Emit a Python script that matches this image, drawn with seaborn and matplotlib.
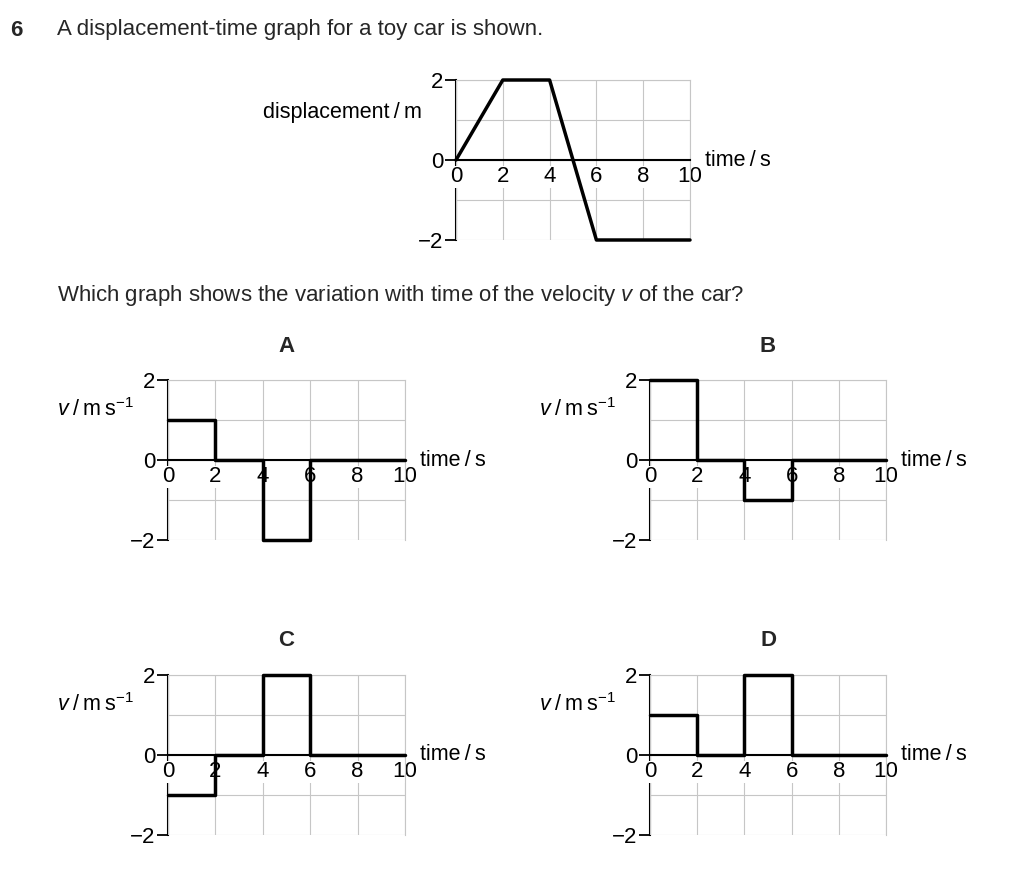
import pandas as pd
import seaborn as sns
import matplotlib.pyplot as plt

sns.set_theme(style="white")
plt.rcParams['font.family'] = ['Liberation Sans', 'DejaVu Sans']
plt.rcParams['mathtext.fontset'] = 'custom'
plt.rcParams['mathtext.rm'] = 'Liberation Sans'
plt.rcParams['mathtext.it'] = 'Liberation Sans:italic'

# displacement-time data
disp_t = [0, 2, 4, 6, 10]
disp_s = [0, 2, 2, -2, -2]

# velocity options (step values, held until the next time)
step_t = [0, 2, 4, 6, 10]
vel_A = [1, 0, -2, 0, 0]
vel_B = [2, 0, -1, 0, 0]
vel_C = [-1, 0, 2, 0, 0]
vel_D = [1, 0, 2, 0, 0]

x_ticks = [0, 2, 4, 6, 8, 10]
x_ticklabels = ['0', '2', '4', '6', '8', '10']
y_ticks = [-2, 0, 2]
y_ticklabels = ['\u22122', '0', '2']

W, H = 1024, 874
fig = plt.figure(figsize=(W / 100, H / 100), dpi=100)
fig.patch.set_facecolor('white')

GRID = '#c6c6c6'
TS = 16
LS = 15.5


def make_ax(x0, x1, ytop, ybot):
    return fig.add_axes([x0 / W, 1 - ybot / H, (x1 - x0) / W, (ybot - ytop) / H])


def style(ax, ylabel, ylab_y):
    ax.set_xlim(0, 10)
    ax.set_ylim(-2, 2)
    ax.set_xticks(x_ticks)
    ax.set_xticklabels(x_ticklabels)
    ax.set_yticks(y_ticks)
    ax.set_yticklabels(y_ticklabels)
    ax.set_yticks([-1, 1], minor=True)
    ax.set_xlabel('')
    ax.set_ylabel('')
    ax.grid(True, which='both', color=GRID, lw=0.8)
    ax.set_axisbelow(True)
    ax.spines['bottom'].set_position(('data', 0))
    for s in ['left', 'bottom']:
        ax.spines[s].set_color('black')
        ax.spines[s].set_linewidth(1.5)
    ax.spines['left'].set_zorder(0.4)
    for s in ['top', 'right']:
        ax.spines[s].set_color(GRID)
        ax.spines[s].set_linewidth(0.8)
    ax.tick_params(axis='x', which='both', length=0, pad=4.5, labelsize=TS, colors='black')
    ax.tick_params(axis='y', which='major', left=True, length=8, width=1.3, pad=1,
                   labelsize=TS, colors='black')
    ax.tick_params(axis='y', which='minor', length=0)
    for lbl in ax.get_xticklabels():
        lbl.set_bbox(dict(facecolor='white', edgecolor='none', pad=0.3))
    ax.annotate(ylabel, xy=(0, ylab_y), xytext=(-34 * 0.72, 0), textcoords='offset points',
                ha='right', va='center', fontsize=LS, color='black')
    ax.annotate('time\u2009/\u2009s', xy=(10, 0), xytext=(15 * 0.72, 0),
                textcoords='offset points', ha='left', va='center', fontsize=LS, color='black')


# question text
fig.text(10 / W, 1 - 30 / H, '6', fontsize=16, fontweight='bold', va='center', ha='left')
fig.text(57 / W, 1 - 30 / H, 'A displacement-time graph for a toy car is shown.',
         fontsize=16, va='center', ha='left')
fig.text(57 / W, 1 - 296 / H,
         'Which graph shows the variation with time of the velocity $v$ of the car?',
         fontsize=16, va='center', ha='left')

# displacement-time graph
ax = make_ax(456, 690, 80, 240)
sns.lineplot(x=disp_t, y=disp_s, ax=ax, color='black', lw=2.5, clip_on=False, zorder=3)
style(ax, 'displacement\u2009/\u2009m', 1.18)

vlabel = '$v$\u2009/\u2009m\u2009s$^{\u22121}$'
panels = [
    ('A', vel_A, 168, 405, 380, 540),
    ('B', vel_B, 650, 886, 380, 540),
    ('C', vel_C, 168, 405, 675, 835),
    ('D', vel_D, 650, 886, 675, 835),
]
for name, vals, x0, x1, yt, yb in panels:
    ax = make_ax(x0, x1, yt, yb)
    df = pd.DataFrame({'time': step_t, 'v': vals})
    sns.lineplot(data=df, x='time', y='v', ax=ax, color='black', lw=2.5,
                 drawstyle='steps-post', clip_on=False, zorder=3)
    style(ax, vlabel, 1.25)
    fig.text((x0 + x1) / 2 / W, 1 - (yt - 34) / H, name, fontsize=16,
             fontweight='bold', ha='center', va='center')

fig.savefig('out.png', dpi=100, facecolor='white')
